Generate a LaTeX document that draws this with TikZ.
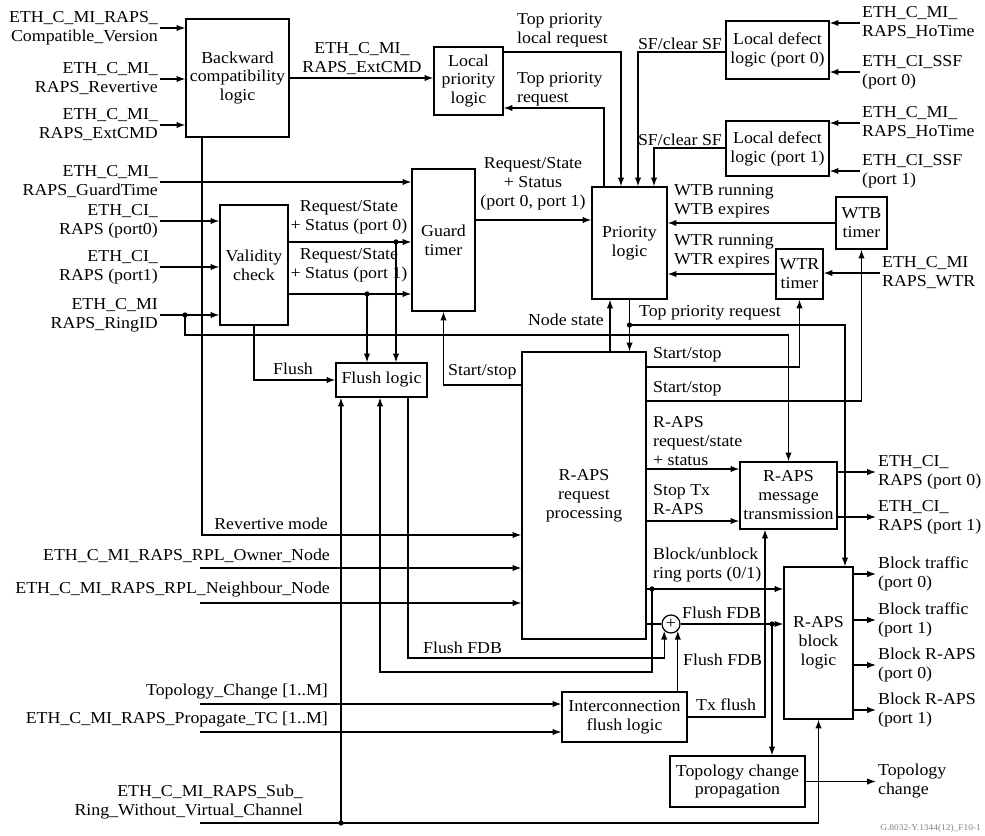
\documentclass[tikz,border=0pt]{standalone}
\usepackage{fontspec}
\setmainfont[FakeStretch=1.07]{Liberation Serif}
\usetikzlibrary{arrows.meta}

\tikzset{
  blk/.style={draw, line width=0.7pt, align=center, inner sep=1pt},
  lbl/.style={align=left, inner sep=1pt},
  lblr/.style={align=right, inner sep=1pt},
  lblc/.style={align=center, inner sep=1pt},
  arr/.style={-{Latex[length=5pt,width=3.6pt]}, line width=0.7pt},
  wire/.style={line width=0.7pt}
}

\begin{document}
\begin{tikzpicture}[x=0.02cm, y=-0.02cm, font=\fontsize{9.5}{10.8}\selectfont]
    \useasboundingbox (0,0) rectangle (985,836);

    % Bloques
    \node[blk, minimum width=2.06cm, minimum height=2.36cm] (bcl) at (237.5,78) {Backward\\compatibility\\logic};
    \node[blk, minimum width=1.38cm, minimum height=1.36cm] (lpl) at (468.5,81) {Local\\priority\\logic};
    \node[blk, minimum width=1.26cm, minimum height=2.84cm] (gt) at (443.5,240) {Guard\\timer};
    \node[blk, minimum width=1.50cm, minimum height=2.24cm] (pl) at (629.5,243) {Priority\\logic};
    \node[blk, minimum width=2.06cm, minimum height=1.16cm] (ld0) at (777.5,50) {Local defect\\logic (port 0)};
    \node[blk, minimum width=2.06cm, minimum height=1.10cm] (ld1) at (777.5,148.5) {Local defect\\logic (port 1)};
    \node[blk, minimum width=1.02cm, minimum height=1.04cm] (wtb) at (861.5,223) {WTB\\timer};
    \node[blk, minimum width=0.94cm, minimum height=1.00cm] (wtr) at (799.5,274) {WTR\\timer};
    \node[blk, minimum width=1.36cm, minimum height=2.40cm] (vc) at (254,265) {Validity\\check};
    \node[blk, minimum width=1.82cm, minimum height=0.68cm] (fl) at (381.5,380) {Flush logic};
    \node[blk, minimum width=2.48cm, minimum height=5.74cm] (rp) at (584,495.5) {R-APS\\request\\processing};
    \node[blk, minimum width=1.94cm, minimum height=1.34cm] (mt) at (788.5,495.5) {R-APS\\message\\transmission};
    \node[blk, minimum width=1.38cm, minimum height=3.04cm] (bl) at (818.5,643) {R-APS\\block\\logic};
    \node[blk, minimum width=2.50cm, minimum height=1.00cm] (ifl) at (624.5,717) {Interconnection\\flush logic};
    \node[blk, minimum width=2.70cm, minimum height=1.02cm] (tcp) at (737.5,781.5) {Topology change\\propagation};
    \node[blk, circle, minimum size=0.36cm, inner sep=0pt] (sum) at (671,624) {+};

    % Entradas izquierda
    \node[lblr, anchor=east] (iCV) at (160,28) {ETH\_C\_MI\_RAPS\_\\Compatible\_Version};
    \node[lblr, anchor=east] (iRev) at (160,79) {ETH\_C\_MI\_\\RAPS\_Revertive};
    \node[lblr, anchor=east] (iExt) at (160,125) {ETH\_C\_MI\_\\RAPS\_ExtCMD};
    \node[lblr, anchor=east] (iGT) at (160,182) {ETH\_C\_MI\_\\RAPS\_GuardTime};
    \node[lblr, anchor=east] (iP0) at (160,221) {ETH\_CI\_\\RAPS (port0)};
    \node[lblr, anchor=east] (iP1) at (160,267) {ETH\_CI\_\\RAPS (port1)};
    \node[lblr, anchor=east] (iRID) at (160,315) {ETH\_C\_MI\\RAPS\_RingID};
    \draw[arr] (iCV.east) -- (iCV.east -| bcl.west);
    \draw[arr] (iRev.east) -- (iRev.east -| bcl.west);
    \draw[arr] (iExt.east) -- (iExt.east -| bcl.west);
    \draw[arr] (iGT.east) -- (iGT.east -| gt.west);
    \draw[arr] (iP0.east) -- (iP0.east -| vc.west);
    \draw[arr] (iP1.east) -- (iP1.east -| vc.west);
    \draw[arr] (iRID.east) -- (iRID.east -| vc.west);

    % RingID hacia la transmision
    \coordinate (cRID) at (185,315);
    \coordinate (cRing) at (185,335);
    \draw[arr] (cRID) -- (cRing) -- (cRing -| mt.north) -- (mt.north);
    \fill (cRID) circle (1.5pt);

    % Compatibilidad
    \draw[arr] (bcl.east) -- (bcl.east -| lpl.west);
    \node[lblc] (lExt) at (362,59) {ETH\_C\_MI\_\\RAPS\_ExtCMD};
    \coordinate (cRev) at (202,535);
    \draw[arr] (bcl.south -| cRev) -- (cRev) -- (cRev -| rp.west);
    \node[lblr, anchor=east] (lRev) at (330,524) {Revertive mode};

    % Validez y guarda
    \coordinate (cQ0) at (396,242);
    \coordinate (cQ1) at (367,294);
    \draw[arr] (vc.east |- cQ0) -- (cQ0 -| gt.west);
    \draw[arr] (vc.east |- cQ1) -- (cQ1 -| gt.west);
    \draw[arr] (cQ0) -- (cQ0 |- fl.north);
    \draw[arr] (cQ1) -- (cQ1 |- fl.north);
    \fill (cQ0) circle (1.5pt);
    \fill (cQ1) circle (1.5pt);
    \node[lblc] (lQ0) at (349,217) {Request/State\\+ Status (port 0)};
    \node[lblc] (lQ1) at (349,265) {Request/State\\+ Status (port 1)};
    \draw[arr] (vc.south) |- (fl.west);
    \node[lblr, anchor=east] (lFl) at (315,369) {Flush};
    \coordinate (cGP) at (533,220);
    \draw[arr] (gt.east |- cGP) -- (cGP -| pl.west);
    \node[lblc] (lGP) at (533,184) {Request/State\\+ Status\\(port 0, port 1)};

    % Prioridad local
    \coordinate (cTL) at (621,52);
    \draw[arr] (lpl.east |- cTL) -- (cTL) -- (cTL |- pl.north);
    \node[lbl, anchor=west] (lTL) at (515,30) {Top priority\\local request};
    \coordinate (cTR) at (604,108);
    \draw[arr] (cTR |- pl.north) -- (cTR) -- (cTR -| lpl.east);
    \node[lbl, anchor=west] (lTR) at (515,89) {Top priority\\request};

    % Defectos locales
    \coordinate (cSF0) at (638,52);
    \coordinate (cSF1) at (654,148);
    \draw[arr] (ld0.west |- cSF0) -- (cSF0) -- (cSF0 |- pl.north);
    \draw[arr] (ld1.west |- cSF1) -- (cSF1) -- (cSF1 |- pl.north);
    \node[lblr, anchor=east] (lSF0) at (724,44) {SF/clear SF};
    \node[lblr, anchor=east] (lSF1) at (724,140) {SF/clear SF};
    \node[lbl, anchor=west] (iHo0) at (860,23) {ETH\_C\_MI\_\\RAPS\_HoTime};
    \node[lbl, anchor=west] (iSSF0) at (860,72) {ETH\_CI\_SSF\\(port 0)};
    \node[lbl, anchor=west] (iHo1) at (860,123) {ETH\_C\_MI\_\\RAPS\_HoTime};
    \node[lbl, anchor=west] (iSSF1) at (860,171) {ETH\_CI\_SSF\\(port 1)};
    \draw[arr] (iHo0.west) -- (iHo0.west -| ld0.east);
    \draw[arr] (iSSF0.west) -- (iSSF0.west -| ld0.east);
    \draw[arr] (iHo1.west) -- (iHo1.west -| ld1.east);
    \draw[arr] (iSSF1.west) -- (iSSF1.west -| ld1.east);

    % Temporizadores
    \node[lbl, anchor=west] (iWTR) at (880,273) {ETH\_C\_MI\\RAPS\_WTR};
    \draw[arr] (wtb.west) -- (wtb.west -| pl.east);
    \draw[arr] (wtr.west) -- (wtr.west -| pl.east);
    \draw[arr] (iWTR.west) -- (iWTR.west -| wtr.east);
    \node[lbl, anchor=west] (lWTB) at (672,201) {WTB running\\WTB expires};
    \node[lbl, anchor=west] (lWTR) at (672,251) {WTR running\\WTR expires};

    % Prioridad y procesamiento
    \coordinate (cTQ) at (629.5,325);
    \coordinate (cTB) at (845,325);
    \coordinate (cNS) at (610,325);
    \draw[arr] (pl.south) -- (pl.south |- rp.north);
    \draw[arr] (cTQ) -- (cTB) -- (cTB |- bl.north);
    \fill (cTQ) circle (1.5pt);
    \node[lbl, anchor=west] (lTQ) at (637,313) {Top priority request};
    \draw[arr] (rp.north -| cNS) -- (pl.south -| cNS);
    \node[lblr, anchor=east] (lNS) at (606,320) {Node state};

    % Start/stop
    \coordinate (cS1) at (646,367);
    \coordinate (cS2) at (646,401);
    \coordinate (cS3) at (522,385);
    \draw[arr] (rp.east |- cS1) -| (wtr.south);
    \draw[arr] (rp.east |- cS2) -| (wtb.south);
    \draw[arr] (rp.west |- cS3) -| (gt.south);
    \node[lbl, anchor=west] (lS1) at (651,355) {Start/stop};
    \node[lbl, anchor=west] (lS2) at (651,389) {Start/stop};
    \node[lbl, anchor=west] (lS3) at (446,372) {Start/stop};

    % Transmision R-APS
    \coordinate (cRQ) at (700,469);
    \coordinate (cST) at (700,521);
    \draw[arr] (rp.east |- cRQ) -- (cRQ -| mt.west);
    \draw[arr] (rp.east |- cST) -- (cST -| mt.west);
    \node[lbl, anchor=west] (lRQ) at (651,441) {R-APS\\request/state\\+ status};
    \node[lbl, anchor=west] (lST) at (651,500) {Stop Tx\\R-APS};
    \node[lbl, anchor=west] (oR0) at (876,472) {ETH\_CI\_\\RAPS (port 0)};
    \node[lbl, anchor=west] (oR1) at (876,517) {ETH\_CI\_\\RAPS (port 1)};
    \draw[arr] (mt.east |- oR0.west) -- (oR0.west);
    \draw[arr] (mt.east |- oR1.west) -- (oR1.west);

    % Bloqueo de puertos
    \coordinate (cBU) at (652,589);
    \coordinate (cBD) at (380,672);
    \draw[arr] (rp.east |- cBU) -- (cBU -| bl.west);
    \draw[arr] (cBU) |- (cBD) -- (cBD |- fl.south);
    \fill (cBU) circle (1.5pt);
    \node[lbl, anchor=west] (lBU) at (651,565) {Block/unblock\\ring ports (0/1)};

    % Flush FDB
    \coordinate (cFF) at (408,658);
    \coordinate (cTC) at (772,624);
    \coordinate (cTX) at (765,717);
    \draw[arr] (fl.south -| cFF) |- (sum.south west |- cFF) -- (sum.south west);
    \node[lbl, anchor=west] (lFF) at (421,648) {Flush FDB};
    \draw[wire] (rp.east |- sum.west) -- (sum.west);
    \draw[arr] (sum.east) -- (sum.east -| bl.west);
    \node[lbl, anchor=west] (lF2) at (680,613) {Flush FDB};
    \draw[arr] (sum.south east |- ifl.north) -- (sum.south east);
    \node[lbl, anchor=west] (lF3) at (681,660) {Flush FDB};
    \draw[arr] (cTC) -- (cTC |- tcp.north);
    \fill (cTC) circle (1.5pt);
    \draw[arr] (ifl.east) -- (cTX) -- (cTX |- mt.south);
    \node[lbl, anchor=west] (lTX) at (694,705) {Tx flush};

    % Salidas del bloqueo
    \node[lbl, anchor=west] (oB0) at (876,574) {Block traffic\\(port 0)};
    \node[lbl, anchor=west] (oB1) at (876,620) {Block traffic\\(port 1)};
    \node[lbl, anchor=west] (oA0) at (876,665) {Block R-APS\\(port 0)};
    \node[lbl, anchor=west] (oA1) at (876,710) {Block R-APS\\(port 1)};
    \node[lbl, anchor=west] (oTC) at (876,781) {Topology\\change};
    \draw[arr] (bl.east |- oB0.west) -- (oB0.west);
    \draw[arr] (bl.east |- oB1.west) -- (oB1.west);
    \draw[arr] (bl.east |- oA0.west) -- (oA0.west);
    \draw[arr] (bl.east |- oA1.west) -- (oA1.west);
    \draw[arr] (tcp.east) -- (tcp.east -| oTC.west);

    % Entradas abajo
    \coordinate (cOwn) at (200,568);
    \coordinate (cNb) at (200,603);
    \coordinate (cTop) at (200,704);
    \coordinate (cPTC) at (200,732);
    \coordinate (cSub) at (200,823);
    \coordinate (cSJ) at (341,823);
    \node[lblr, anchor=east] (iOwn) at (332,556) {ETH\_C\_MI\_RAPS\_RPL\_Owner\_Node};
    \node[lblr, anchor=east] (iNb) at (332,590) {ETH\_C\_MI\_RAPS\_RPL\_Neighbour\_Node};
    \node[lblr, anchor=east] (iTop) at (330,692) {Topology\_Change [1..M]};
    \node[lblr, anchor=east] (iPTC) at (330,720) {ETH\_C\_MI\_RAPS\_Propagate\_TC [1..M]};
    \node[lblr, anchor=east] (iSub) at (305,802) {ETH\_C\_MI\_RAPS\_Sub\_\\Ring\_Without\_Virtual\_Channel};
    \draw[arr] (cOwn) -- (cOwn -| rp.west);
    \draw[arr] (cNb) -- (cNb -| rp.west);
    \draw[arr] (cTop) -- (cTop -| ifl.west);
    \draw[arr] (cPTC) -- (cPTC -| ifl.west);
    \draw[arr] (cSub) -| (bl.south);
    \draw[arr] (cSJ) -- (cSJ |- fl.south);
    \fill (cSJ) circle (1.5pt);

    % Referencia
    \node[anchor=east, inner sep=1pt, text=gray, font=\fontsize{5}{6}\selectfont] (fig) at (983,828) {G.8032-Y.1344(12)\_F10-1};

\end{tikzpicture}
\end{document}
